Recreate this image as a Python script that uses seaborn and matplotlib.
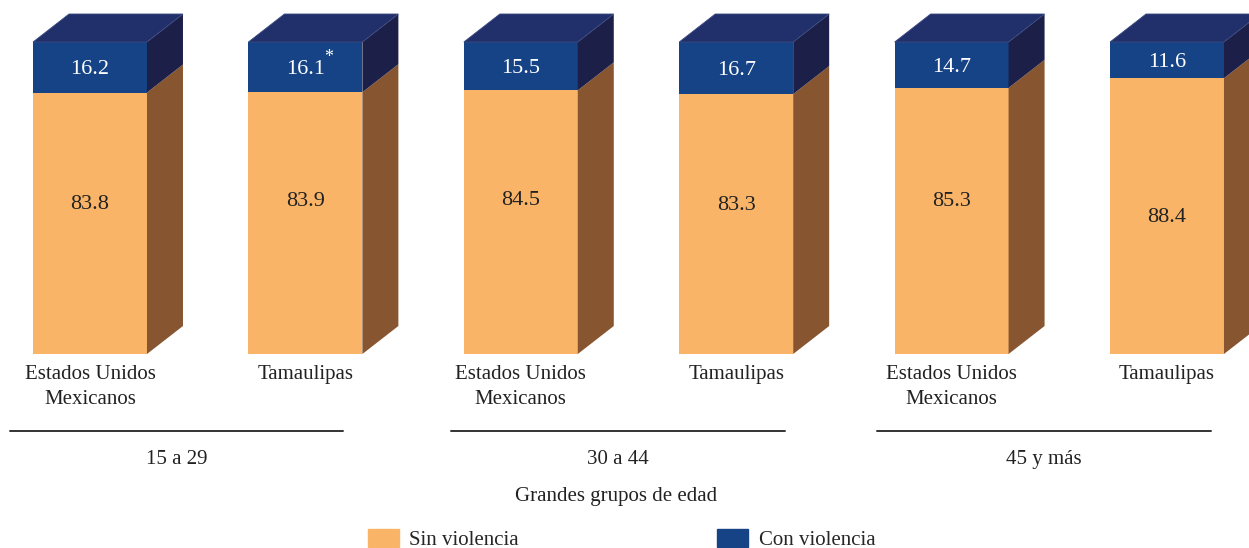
import matplotlib
matplotlib.use("Agg")
import matplotlib.pyplot as plt
from matplotlib.patches import Polygon, Patch
import seaborn as sns
import pandas as pd

# datos
entidades = ["Estados Unidos\nMexicanos", "Tamaulipas"] * 3
grupos = ["15 a 29", "15 a 29", "30 a 44", "30 a 44", "45 y más", "45 y más"]
sin_violencia = [83.8, 83.9, 84.5, 83.3, 85.3, 88.4]
con_violencia = [16.2, 16.1, 15.5, 16.7, 14.7, 11.6]
notas = ["", "*", "", "", "", ""]

df = pd.DataFrame({"entidad": entidades, "grupo": grupos,
                   "sin": sin_violencia, "con": con_violencia})
df["barra"] = df["grupo"] + " | " + df["entidad"]
df["total"] = df["sin"] + df["con"]

# colores
naranja = "#F9B468"
azul = "#154385"
azul_tapa = "#21306A"
azul_lado = "#1C1F47"
cafe = "#87552F"

sns.set_theme(style="white")
plt.rcParams["font.family"] = ["Liberation Serif", "DejaVu Serif"]

fig = plt.figure(figsize=(12.49, 5.48), dpi=100)
ax = fig.add_axes([0, 194 / 548, 1, 354 / 548])

ancho = 0.529
sns.barplot(data=df, x="barra", y="total", color=azul, saturation=1, width=ancho,
            errorbar=None, linewidth=0, ax=ax)
sns.barplot(data=df, x="barra", y="sin", color=naranja, saturation=1, width=ancho,
            errorbar=None, linewidth=0, ax=ax)

px = 215.4  # pixeles por unidad en x
py = 3.12   # pixeles por unidad en y
ax.set_xlim(-90 / px, (1249 - 90) / px)
ax.set_ylim(0, 354 / py)

# caras laterales y tapa (efecto 3D)
dx, dy = 36 / px, 28 / py
for i, p in enumerate(ax.patches[:6]):
    x0 = p.get_x()
    x1 = x0 + p.get_width()
    s = sin_violencia[i]
    t = sin_violencia[i] + con_violencia[i]
    ax.add_patch(Polygon([(x1, 0), (x1 + dx, dy), (x1 + dx, s + dy), (x1, s)],
                         closed=True, facecolor=cafe, edgecolor="none"))
    ax.add_patch(Polygon([(x1, s), (x1 + dx, s + dy), (x1 + dx, t + dy), (x1, t)],
                         closed=True, facecolor=azul_lado, edgecolor="none"))
    ax.add_patch(Polygon([(x0, t), (x1, t), (x1 + dx, t + dy), (x0 + dx, t + dy)],
                         closed=True, facecolor=azul_tapa, edgecolor="#3a4a80", linewidth=0.6))

# etiquetas de valores (ajuste de ~2.5 px hacia abajo)
ajuste = 2.5 / py
y_etiqueta_sin = [48.7, 49.7, 50.0, 48.4, 49.7, 44.6]
for i in range(6):
    ax.text(i, y_etiqueta_sin[i] - ajuste, f"{sin_violencia[i]:.1f}", ha="center",
            va="center", fontsize=16, color="#222222")
    yc = sin_violencia[i] + con_violencia[i] / 2
    ax.text(i, yc - ajuste, f"{con_violencia[i]:.1f}", ha="center", va="center",
            fontsize=16, color="white")
    if notas[i]:
        ax.annotate(notas[i], xy=(i, yc), xytext=(17, 7), textcoords="offset points",
                    ha="center", va="center", fontsize=13, color="white")

ax.set_xticks(range(6))
ax.set_xticklabels(entidades, fontsize=15, color="#222222")
for lbl in ax.get_xticklabels():
    lbl.set_linespacing(1.45)
ax.tick_params(axis="x", length=0, pad=8)
ax.set_yticks([])
ax.set_xlabel("")
ax.set_ylabel("")
sns.despine(ax=ax, left=True, bottom=True)

# grupos de edad
nombres_grupo = ["15 a 29", "30 a 44", "45 y más"]
linea_ini = [10, 451, 877]
linea_fin = [343, 785, 1211]
for g, a, b in zip(nombres_grupo, linea_ini, linea_fin):
    xa, xb = (a - 90) / px, (b - 90) / px
    ax.plot([xa, xb], [(354 - 431) / py] * 2, color="#333333", lw=1.4, clip_on=False)
    ax.text((xa + xb) / 2, (354 - 459.5) / py, g, ha="center", va="center",
            fontsize=15, color="#222222")

fig.text(616 / 1249, (548 - 497) / 548, "Grandes grupos de edad", ha="center", va="center",
         fontsize=15, color="#222222")

handles = [Patch(color=naranja, label="Sin violencia"), Patch(color=azul, label="Con violencia")]
fig.legend(handles=handles, loc="center", bbox_to_anchor=(0.4976, 0.016), ncol=2,
           frameon=False, fontsize=15, handlelength=1.5, handleheight=1.0,
           handletextpad=0.5, columnspacing=9.5)

fig.savefig("out.png", dpi=100)
